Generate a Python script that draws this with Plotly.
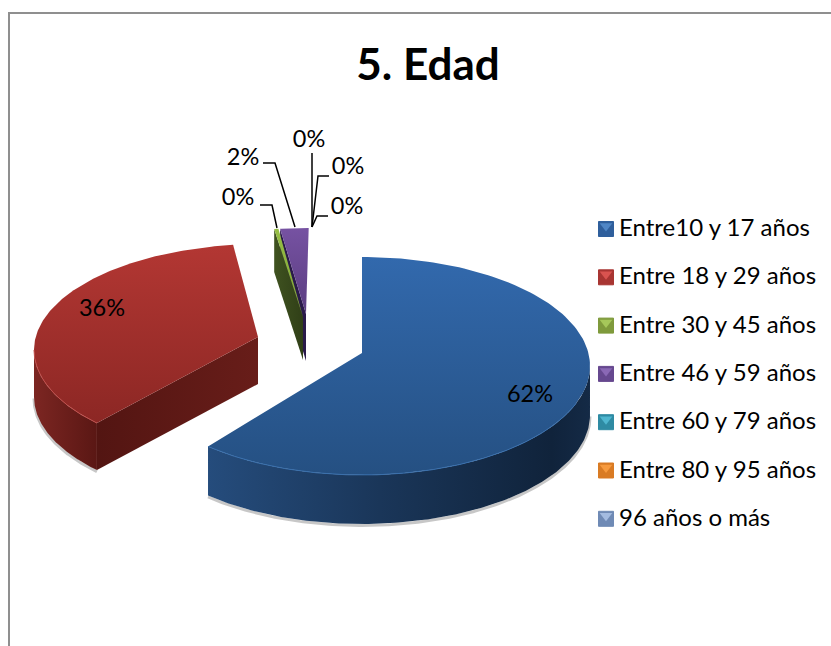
import numpy as np
import plotly.graph_objects as go

# ---- data ----
categories = ["Entre10 y 17 años", "Entre 18 y 29 años", "Entre 30 y 45 años",
              "Entre 46 y 59 años", "Entre 60 y 79 años", "Entre 80 y 95 años",
              "96 años o más"]
values = [61.8, 35.9, 0.3, 2.0, 0.0, 0.0, 0.0]
title_text = "5. Edad"

# ---- styles / layout ----
FONT = "Lato, Carlito, Calibri, sans-serif"
swatch_dark = ["#2f5f9c", "#a83532", "#7f9a3c", "#66488f", "#2f8ba3", "#d97b24", "#6f8ab5"]
swatch_light = ["#4f86c6", "#d9534f", "#a6c75a", "#8a68b5", "#4fb6cf", "#f79a3e", "#a3bbe0"]
A = 228
# cx, cy, apex x, apex y, b, depth, angle scale, angle shift
geom = {
    0: dict(cx=362, cy=366, ax=362, ay=353, b=109, d=49, sc=1.0, sh=0.0),
    1: dict(cx=262, cy=350, ax=258, ay=337, b=106, d=47, sc=0.9775, sh=2.45),
    2: dict(cx=307, cy=334, ax=303, ay=317, b=106, d=43, sc=1.0, sh=0.0),
    3: dict(cx=308.7, cy=334, ax=306, ay=314, b=106, d=47, sc=1.0, sh=0.0),
}
tops = {0: ("#255082", "#3269ad"), 1: ("#8c2724", "#b33733"),
        2: ("#7da033", "#97bf45"), 3: ("#5a3d80", "#7652a2")}

total = sum(values)
edges = np.concatenate([[0], np.cumsum(values)]) / total * 360.0


def span(i):
    g = geom[i]
    mid = (edges[i] + edges[i + 1]) / 2
    half = (edges[i + 1] - edges[i]) / 2 * g["sc"]
    return mid - half + g["sh"], mid + half + g["sh"]


def arc(i, t0, t1, dy=0.0):
    g = geom[i]
    t = np.radians(np.linspace(t0, t1, 160))
    return g["cx"] + A * np.sin(t), g["cy"] - g["b"] * np.cos(t) + dy


def poly(x, y, c0, c1, kind):
    return go.Scatter(x=np.r_[x, x[0]], y=np.r_[y, y[0]], mode="lines", line=dict(width=0),
                      fill="toself", hoverinfo="skip", showlegend=False,
                      fillcolor=c0,
                      fillgradient=dict(type=kind, colorscale=[[0, c0], [1, c1]]))


def line(x, y, color, width):
    return go.Scatter(x=x, y=y, mode="lines", line=dict(color=color, width=width),
                      hoverinfo="skip", showlegend=False)


def top_face(i):
    s, e = span(i)
    x, y = arc(i, s, e)
    g = geom[i]
    return poly(np.r_[g["ax"], x], np.r_[g["ay"], y], tops[i][0], tops[i][1], "vertical")


def outer_wall(i, t0, t1, cols):
    x, y = arc(i, t0, t1)
    xb, yb = arc(i, t0, t1, geom[i]["d"])
    tr = go.Scatter(x=np.r_[x, xb[::-1], x[0]], y=np.r_[y, yb[::-1], y[0]], mode="lines",
                    line=dict(width=0), fill="toself", hoverinfo="skip", showlegend=False,
                    fillcolor=cols[1][1],
                    fillgradient=dict(type="horizontal", colorscale=cols))
    return tr


def edge_wall(i, c0, c1):
    s, _ = span(i)
    g = geom[i]
    x, y = arc(i, s, s)
    px, py = x[0], y[0]
    return poly(np.array([px, g["ax"], g["ax"], px]),
                np.array([py, g["ay"], g["ay"] + g["d"], py + g["d"]]), c0, c1, "horizontal")


traces = []
# purple and green slivers (back of the pie)
traces += [edge_wall(3, "#2a1a4a", "#2a1a4a"), top_face(3)]
traces += [edge_wall(2, "#3f5220", "#303f17"), top_face(2)]

# red slice
s1, e1 = span(1)
xs, ys = arc(1, s1, 270, geom[1]["d"] + 1.5)
traces.append(line(xs, ys, "rgba(0,0,0,0.22)", 3))
traces.append(outer_wall(1, s1, 270, [[0, "#7c2622"], [1, "#5a1714"]]))
traces.append(edge_wall(1, "#531512", "#681d19"))
traces.append(top_face(1))
xr, yr = arc(1, s1, 270)
traces.append(line(xr, yr, "#c0504d", 1))

# blue slice
s0, e0 = span(0)
xs, ys = arc(0, 90, e0, geom[0]["d"] + 1.5)
traces.append(line(xs, ys, "rgba(0,0,0,0.22)", 3))
traces.append(outer_wall(0, 90, e0, [[0, "#254c7c"], [0.45, "#1a3659"], [0.9, "#10233b"], [1, "#142a46"]]))
traces.append(top_face(0))
xr, yr = arc(0, 110, e0)
traces.append(line(xr, yr, "#3a70ad", 1))

# legend key
key_y = [229 + 48.3 * i for i in range(len(categories))]
key_x = [606] * len(categories)
traces.append(go.Scatter(x=key_x, y=key_y, mode="markers", hoverinfo="skip", showlegend=False,
                         marker=dict(symbol="square", size=15, color=swatch_dark,
                                     line=dict(width=1, color=swatch_dark))))
traces.append(go.Scatter(x=key_x, y=[v - 3 for v in key_y], mode="markers", hoverinfo="skip", showlegend=False,
                         marker=dict(symbol="triangle-down", size=11, color=swatch_light)))
traces.append(go.Scatter(x=[619] * len(categories), y=[v + 1 for v in key_y], mode="text", text=categories,
                         textposition="middle right", hoverinfo="skip", showlegend=False,
                         textfont=dict(family=FONT, size=24, color="#000000")))

# percent labels
label_pos = [(530, 396), (102, 310), (238, 199), (243, 159), (309, 141), (348, 168), (347, 208)]
traces.append(go.Scatter(x=[p[0] for p in label_pos], y=[p[1] for p in label_pos], mode="text",
                         text=[f"{round(v)}%" for v in values], textposition="middle center",
                         hoverinfo="skip", showlegend=False,
                         textfont=dict(family=FONT, size=23.5, color="#000000")))

fig = go.Figure(traces)

# leader lines
leaders = [
    [(260, 205), (272, 205), (277, 228)],
    [(263, 163), (275, 163), (295, 227)],
    [(312, 153), (312, 227)],
    [(329, 176), (318, 176), (312, 227)],
    [(328, 216), (317, 216), (312, 227)],
]
shapes = []
for pts in leaders:
    path = "M " + " L ".join(f"{x},{y}" for x, y in pts)
    shapes.append(dict(type="path", path=path, line=dict(color="#000000", width=1.5)))
# outer frame
shapes.append(dict(type="path", path="M 9,646 L 9,13 L 831,13",
                   line=dict(color="#8f8f8f", width=2)))

fig.update_layout(
    width=831, height=646, margin=dict(l=0, r=0, t=0, b=0),
    paper_bgcolor="#ffffff", plot_bgcolor="#ffffff", showlegend=False,
    title=dict(text=f"<b>{title_text}</b>", x=428 / 831, y=1 - 65 / 646, xanchor="center", yanchor="middle",
               font=dict(family=FONT, size=44, color="#000000")),
    xaxis=dict(range=[0, 831], visible=False, fixedrange=True),
    yaxis=dict(range=[646, 0], visible=False, fixedrange=True),
    shapes=shapes,
)
fig.write_html("out.html", config=dict(displayModeBar=False),
               post_script="document.body.style.margin='0';")
